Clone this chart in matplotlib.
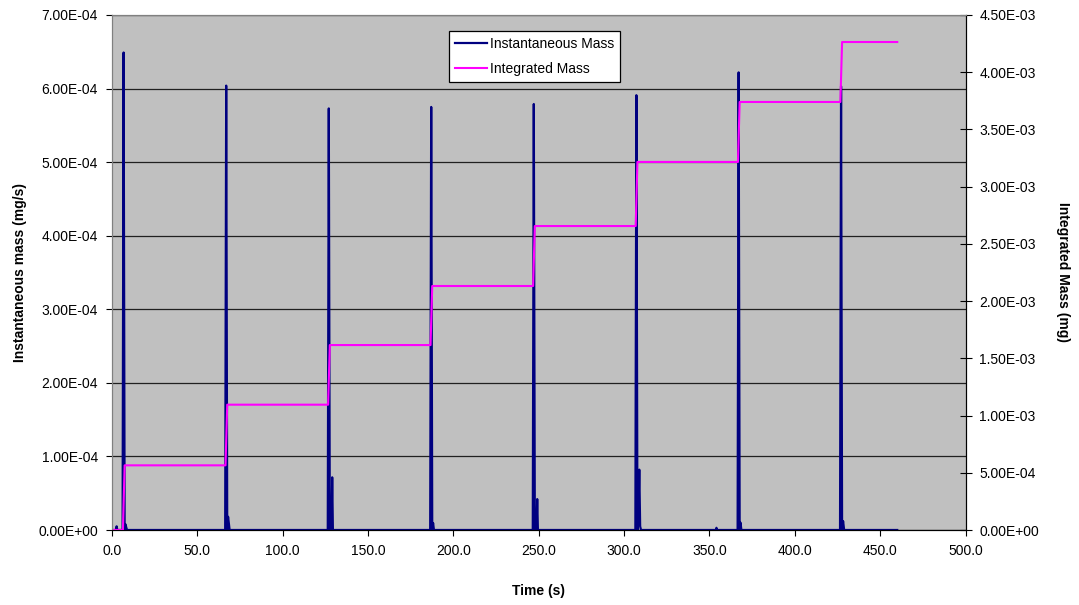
import numpy as np
import matplotlib
matplotlib.use('Agg')
import matplotlib.pyplot as plt
from matplotlib.ticker import FormatStrFormatter, MultipleLocator

plt.rcParams['font.family'] = ['Liberation Sans', 'DejaVu Sans']
plt.rcParams['font.size'] = 10

# instantaneous mass trace (time s, mg/s)
inst_t = [0.0, 2.3, 2.7, 3.1, 6.2, 6.8, 7.4, 7.8, 8.3, 8.8,
          66.3, 66.9, 67.5, 68.0, 68.4, 68.9,
          126.4, 127.0, 127.6, 128.1, 128.6, 129.0, 129.4,
          186.4, 187.0, 187.6, 188.1, 188.6,
          246.5, 247.1, 247.7, 248.2, 248.7, 249.1, 249.5,
          306.6, 307.2, 307.8, 308.3, 308.9, 309.4, 309.9,
          353.7, 354.1, 354.5,
          366.5, 367.1, 367.7, 368.2, 368.7,
          426.5, 427.1, 427.7, 428.3, 428.9, 460.0]
inst_v = [0.0, 0.0, 5e-6, 0.0, 0.0, 6.49e-4, 0.0, 8e-6, 4e-6, 0.0,
          0.0, 6.04e-4, 0.0, 1.8e-5, 1.0e-5, 0.0,
          0.0, 5.73e-4, 0.0, 2e-6, 0.0, 7.16e-5, 0.0,
          0.0, 5.75e-4, 0.0, 9.5e-6, 0.0,
          0.0, 5.79e-4, 0.0, 2.5e-5, 0.0, 4.2e-5, 0.0,
          0.0, 5.91e-4, 0.0, 1e-5, 8.2e-5, 5e-6, 0.0,
          0.0, 3e-6, 0.0,
          0.0, 6.22e-4, 0.0, 1e-5, 0.0,
          0.0, 6.03e-4, 0.0, 1.2e-5, 0.0, 0.0]

# integrated mass (mg)
integ_t = [0.0, 6.4, 7.4, 66.5, 67.5, 126.6, 127.6, 186.6, 187.6,
           246.7, 247.7, 306.8, 307.8, 366.7, 367.7, 426.7, 427.7, 460.0]
integ_v = [0.0, 0.0, 5.65e-4, 5.65e-4, 1.095e-3, 1.095e-3, 1.616e-3, 1.616e-3, 2.132e-3,
           2.132e-3, 2.656e-3, 2.656e-3, 3.216e-3, 3.216e-3, 3.74e-3, 3.74e-3, 4.264e-3, 4.264e-3]

W, H = 1079, 605
fig = plt.figure(figsize=(W/100, H/100), dpi=100)
ax1 = fig.add_axes([112/W, 1-530/H, (965.5-112)/W, (530-15)/H])
ax1.set_facecolor('#c0c0c0')
ax2 = ax1.twinx()

l1, = ax1.plot(inst_t, inst_v, color='#000080', lw=1.6, label='Instantaneous Mass')
l2, = ax2.plot(integ_t, integ_v, color='#ff00ff', lw=1.5, label='Integrated Mass')

ax1.set_xlim(0, 500)
ax1.set_ylim(0, 7e-4)
ax2.set_ylim(0, 4.5e-3)
ax1.xaxis.set_major_locator(MultipleLocator(50))
ax1.yaxis.set_major_locator(MultipleLocator(1e-4))
ax2.yaxis.set_major_locator(MultipleLocator(5e-4))
ax1.xaxis.set_major_formatter(FormatStrFormatter('%.1f'))
ax1.yaxis.set_major_formatter(FormatStrFormatter('%.2E'))
ax2.yaxis.set_major_formatter(FormatStrFormatter('%.2E'))

ax1.grid(axis='y', color='#202020', lw=0.9)
ax1.set_axisbelow(True)
ax1.tick_params(axis='both', direction='out', length=4, width=0.8, color='black', pad=6)
ax2.tick_params(axis='y', direction='inout', length=8, width=0.8, color='black', pad=6)

for ax in (ax1, ax2):
    ax.spines['left'].set_color('#808080')
    ax.spines['top'].set_color('#808080')
    ax.spines['right'].set_color('black')
    ax.spines['bottom'].set_color('black')

ax1.set_xlabel('Time (s)', fontweight='bold', labelpad=19)
ax1.set_ylabel('Instantaneous mass (mg/s)', fontweight='bold', labelpad=8)
ax2.set_ylabel('Integrated Mass (mg)', fontweight='bold', rotation=270, labelpad=22)

leg = ax2.legend(handles=[l1, l2], loc='upper left',
                 bbox_to_anchor=(449/W, 1-31/H), bbox_transform=fig.transFigure,
                 borderaxespad=0, fancybox=False, framealpha=1, edgecolor='black',
                 handlelength=2.3, handletextpad=0.2, borderpad=0.45, labelspacing=0.75)
leg.get_frame().set_linewidth(0.9)

fig.savefig('out.png', dpi=100)
